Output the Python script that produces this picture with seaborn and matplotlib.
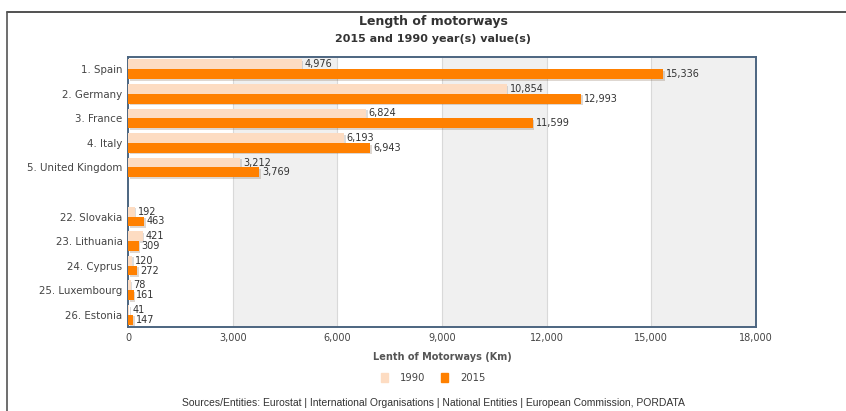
import matplotlib
matplotlib.use("Agg")
import matplotlib.pyplot as plt
import seaborn as sns
import pandas as pd
from matplotlib.lines import Line2D
from matplotlib.patches import Rectangle
import matplotlib.patheffects as pe
from matplotlib.ticker import FuncFormatter, MultipleLocator

countries = ["1. Spain", "2. Germany", "3. France", "4. Italy", "5. United Kingdom",
             " ",
             "22. Slovakia", "23. Lithuania", "24. Cyprus", "25. Luxembourg", "26. Estonia"]
data_countries = ["1. Spain", "2. Germany", "3. France", "4. Italy", "5. United Kingdom",
                  "22. Slovakia", "23. Lithuania", "24. Cyprus", "25. Luxembourg", "26. Estonia"]
values_1990 = [4976, 10854, 6824, 6193, 3212, 192, 421, 120, 78, 41]
values_2015 = [15336, 12993, 11599, 6943, 3769, 463, 309, 272, 161, 147]
years = ["1990", "2015"]
xticks = [0, 3000, 6000, 9000, 12000, 15000, 18000]

rows = []
for c, v in zip(data_countries, values_1990):
    rows.append({"country": c, "year": "1990", "value": v})
for c, v in zip(data_countries, values_2015):
    rows.append({"country": c, "year": "2015", "value": v})
df = pd.DataFrame(rows)

sns.set_theme(style="white")
plt.rcParams["font.family"] = ["DejaVu Sans"]

fig = plt.figure(figsize=(8.46, 4.11), dpi=100)
ax = fig.add_axes([128/846, 1-327/411, (756-128)/846, (327-57)/411])

palette = {"1990": "#FDDCC2", "2015": "#FF8000"}
sns.barplot(data=df, y="country", x="value", hue="year", order=countries,
            hue_order=years, palette=palette, orient="h", width=0.8,
            saturation=1, ax=ax, legend=False, zorder=3)

for patch in ax.patches:
    patch.set_path_effects([pe.SimplePatchShadow(offset=(1.2, -1.2), alpha=0.18), pe.Normal()])
    patch.set_edgecolor("none")

for cont in ax.containers:
    ax.bar_label(cont, labels=[f"{v:,.0f}" for v in cont.datavalues],
                 padding=2, fontsize=7, color="#333333")

ax.set_xlim(0, 18000)
# bands
for i, (a, b) in enumerate(zip(xticks[:-1], xticks[1:])):
    if i % 2 == 1:
        ax.axvspan(a, b, color="#F0F0F0", zorder=0, lw=0)
for t in xticks[1:-1]:
    ax.axvline(t, color="#D9D9D9", lw=0.8, zorder=1)

ax.xaxis.set_major_locator(MultipleLocator(3000))
ax.xaxis.set_major_formatter(FuncFormatter(lambda v, p: f"{v:,.0f}"))
ax.tick_params(axis="both", length=0, labelsize=7, labelcolor="#444444", pad=4)
ax.tick_params(axis="y", labelsize=7.4)
ax.set_xlabel("Lenth of Motorways (Km)", fontsize=7, fontweight="bold", color="#555555", labelpad=7)
ax.set_ylabel("")

for s in ax.spines.values():
    s.set_color("#4C6580")
    s.set_linewidth(1.4)

# title and subtitle
fig.text(433/846, 1-21/411, "Length of motorways", ha="center", va="center",
         fontsize=9, fontweight="bold", color="#333333")
fig.text(433/846, 1-39/411, "2015 and 1990 year(s) value(s)", ha="center", va="center",
         fontsize=8, fontweight="bold", color="#333333")

# legend
handles = [Rectangle((0, 0), 1, 1, color=palette["1990"]),
           Rectangle((0, 0), 1, 1, color=palette["2015"])]
fig.legend(handles, years, loc="center", bbox_to_anchor=(433/846, 1-378/411), ncol=2,
           frameon=False, fontsize=7.2, handlelength=0.7, handleheight=0.9,
           handletextpad=1.2, columnspacing=1.6, labelcolor="#444444")

# sources
fig.text(433/846, 1-403/411,
         "Sources/Entities: Eurostat | International Organisations | National Entities | European Commission, PORDATA",
         ha="center", va="center", fontsize=7.5, color="#333333", family=["Liberation Sans", "DejaVu Sans"])

# frame lines
fig.add_artist(Line2D([7/846, 1], [1-12/411, 1-12/411], color="#333333", lw=1.2))
fig.add_artist(Line2D([7/846, 7/846], [0, 1-12/411], color="#555555", lw=1.2))

fig.savefig("out.png", dpi=100)
